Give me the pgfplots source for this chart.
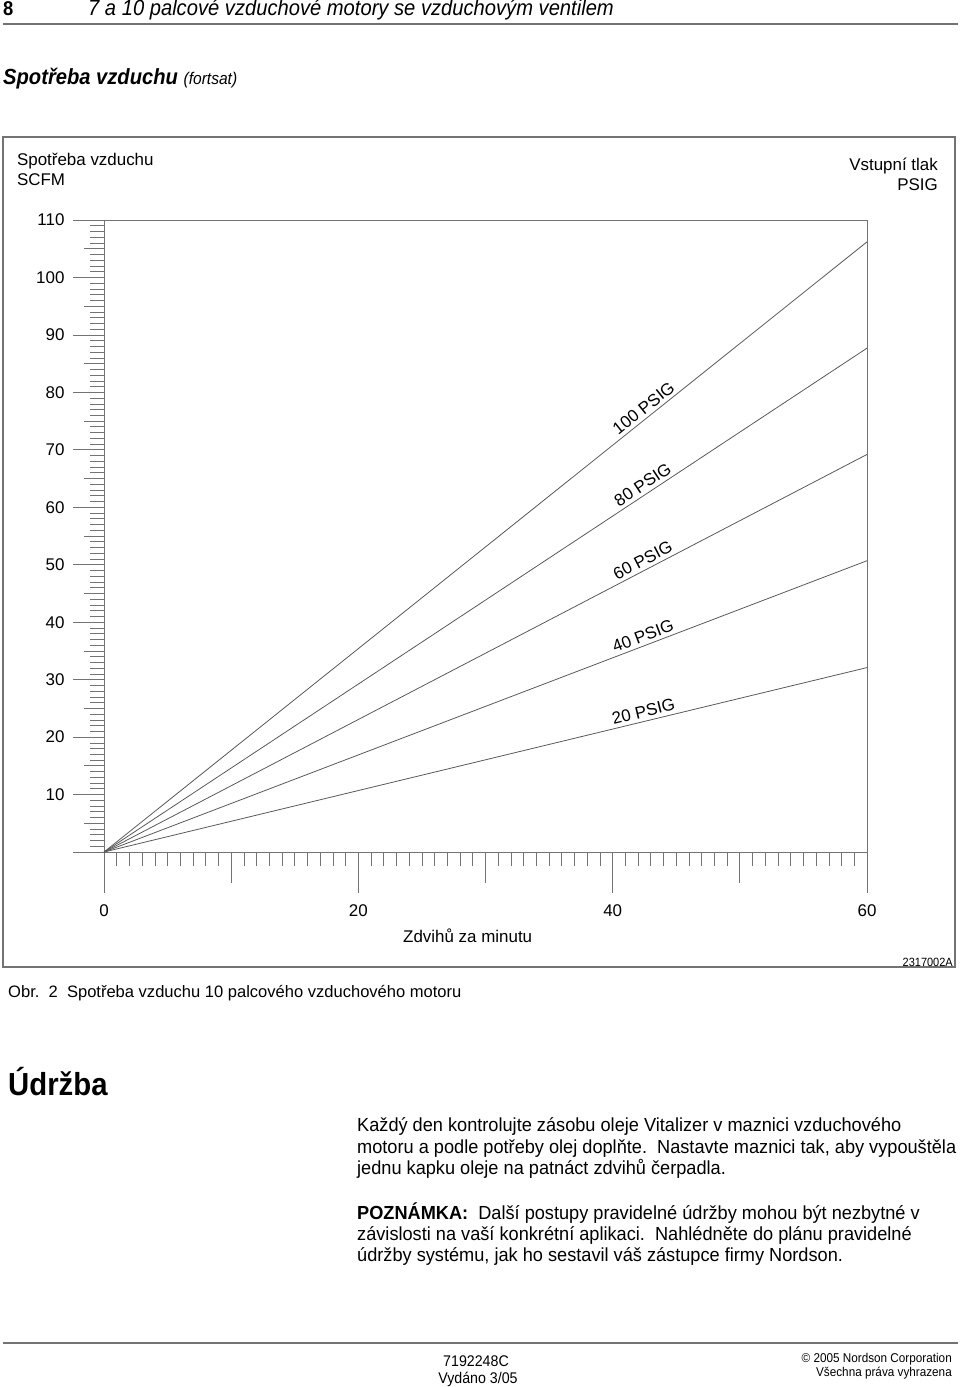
\documentclass[border=0pt]{standalone}
\usepackage{fontspec}
\setmainfont{Liberation Sans}
\newfontfamily\narrow[FakeStretch=0.92]{Liberation Sans}
\newfontfamily\bodyf[FakeStretch=0.96]{Liberation Sans}
\usepackage{pgfplots}
\pgfplotsset{compat=1.18}
\newcommand{\fs}[1]{\fontsize{#1}{#1}\selectfont}
\definecolor{ln}{gray}{0.35}
\definecolor{ax}{gray}{0.45}

\begin{document}
\begin{tikzpicture}[x=1bp,y=1bp]
\path[use as bounding box] (0,0) rectangle (960,-1387);
% page header
\node[anchor=base west, inner sep=0] at (3,-16) {\narrow\bfseries\fs{20}8};
\node[anchor=base west, inner sep=0] at (88,-16) {\narrow\itshape\fs{22}7 a 10 palcové vzduchové motory se vzduchovým ventilem};
\draw[ax, line width=2bp] (3,-24.5) -- (958,-24.5);
\node[anchor=base west, inner sep=0] at (3,-85) {\narrow\bfseries\itshape\fs{22}Spotřeba vzduchu \mdseries\fs{17}(fortsat)};
% figure frame
\draw[ax, line width=1.5bp] (3,-137) rectangle (955,-967);

\begin{axis}[
  at={(104bp,-852bp)}, anchor=south west,
  scale only axis, width=763bp, height=632bp,
  xmin=0, xmax=60, ymin=0, ymax=110,
  clip=false,
  axis line style={ax, line width=0.9bp},
  tick style={ax, line width=0.7bp},
  tick align=outside,
  xtick pos=bottom, ytick pos=left,
  major tick length=31bp,
  minor tick length=14bp,
  xtick={10,30,50}, xticklabels={},
  extra x ticks={0,20,40,60},
  extra x tick labels={0,20,40,60},
  extra x tick style={major tick length=41bp},
  minor xtick={0,1,...,60},
  ytick={0,10,...,110},
  yticklabels={,10,20,30,40,50,60,70,80,90,100,110},
  extra y ticks={5,15,...,105},
  extra y tick labels={},
  extra y tick style={major tick length=20bp},
  minor ytick={0,1,...,110},
  tick label style={font=\fs{17}},
  xticklabel style={yshift=-8bp},
  yticklabel style={xshift=-5bp},
  /pgf/number format/assume math mode=true,
  xlabel={Zdvihů za minutu},
  xlabel style={at={(axis cs:28.6,-14.6)}, anchor=center, font=\fs{17}},
  ylabel={Spotřeba vzduchu\\SCFM},
  ylabel style={at={(axis cs:-6.85,121.6)}, anchor=north west, rotate=-90, align=left, font={\fontsize{17}{20}\selectfont}, inner sep=0pt},
]
\addplot[ln, line width=0.8bp] coordinates {(0,0) (60,106.2)}
  node[pos=0.715, sloped, above, font=\fs{17}, text=black] {100 PSIG};
\addplot[ln, line width=0.8bp] coordinates {(0,0) (60,87.7)}
  node[pos=0.713, sloped, above, font=\fs{17}, text=black] {80 PSIG};
\addplot[ln, line width=0.8bp] coordinates {(0,0) (60,69.2)}
  node[pos=0.712, sloped, above, font=\fs{17}, text=black] {60 PSIG};
\addplot[ln, line width=0.8bp] coordinates {(0,0) (60,50.7)}
  node[pos=0.711, sloped, above, font=\fs{17}, text=black] {40 PSIG};
\addplot[ln, line width=0.8bp] coordinates {(0,0) (60,32.1)}
  node[pos=0.71, sloped, above, font=\fs{17}, text=black] {20 PSIG};
\end{axis}

\node[anchor=north east, align=right, inner sep=0, font={\fontsize{17}{20}\selectfont}] at (938,-158) {Vstupní tlak\\PSIG};
\node[anchor=base east, inner sep=0] at (953,-966) {\narrow\fs{12}2317002A};
% caption
\node[anchor=base west, inner sep=0] at (8,-997) {\fs{16.6}Obr.\ \ 2\ \ Spotřeba vzduchu 10 palcového vzduchového motoru};
% section
\node[anchor=base west, inner sep=0] at (8,-1095) {\narrow\bfseries\fs{32}Údržba};
\begin{scope}[every node/.style={anchor=base west, inner sep=0, font=\bodyf\fs{19}}]
\node at (357,-1131) {Každý den kontrolujte zásobu oleje Vitalizer v maznici vzduchového};
\node at (357,-1153) {motoru a podle potřeby olej doplňte.\ \ Nastavte maznici tak, aby vypouštěla};
\node at (357,-1174) {jednu kapku oleje na patnáct zdvihů čerpadla.};
\node at (357,-1219) {\bfseries POZNÁMKA:\ \ \mdseries Další postupy pravidelné údržby mohou být nezbytné v};
\node at (357,-1240) {závislosti na vaší konkrétní aplikaci.\ \ Nahlédněte do plánu pravidelné};
\node at (357,-1261) {údržby systému, jak ho sestavil váš zástupce firmy Nordson.};
\end{scope}
% footer
\draw[ax, line width=2bp] (3,-1343) -- (958,-1343);
\node[anchor=base, inner sep=0, align=center] at (476,-1366) {\narrow\fs{15.5}7192248C};
\node[anchor=base, inner sep=0, align=center] at (478,-1383) {\narrow\fs{15.5}Vydáno 3/05};
\node[anchor=base east, inner sep=0] at (952,-1362) {\narrow\fs{12.8}© 2005 Nordson Corporation};
\node[anchor=base east, inner sep=0] at (952,-1376) {\narrow\fs{12.8}Všechna práva vyhrazena};
\end{tikzpicture}
\end{document}
